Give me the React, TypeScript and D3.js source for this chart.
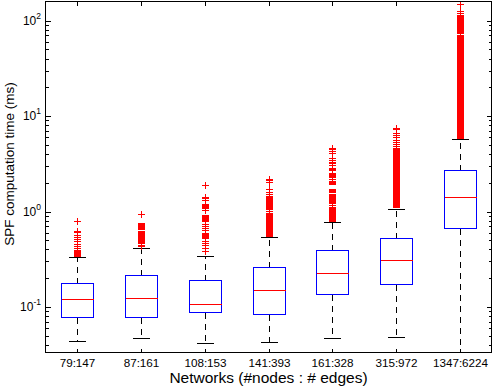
import { scaleBand, scaleLog } from 'd3'

// networks on the x axis
const categories = ['79:147', '87:161', '108:153', '141:393', '161:328', '315:972', '1347:6224']

// box statistics (ms)
const q1 = [0.078, 0.0788, 0.0895, 0.0847, 0.137, 0.1756, 0.671]
const medians = [0.1215, 0.1245, 0.1085, 0.151, 0.227, 0.3105, 1.414]
const q3 = [0.1786, 0.2165, 0.19, 0.2624, 0.395, 0.527, 2.71]
const whiskerLow = [0.0442, 0.0468, 0.0422, 0.0432, 0.0468, 0.0487, 0.025]
const whiskerHigh = [0.334, 0.4146, 0.344, 0.535, 0.786, 1.059, 5.71]

// single outliers that can be told apart
const outliers = [
  [0.794, 0.625, 0.606, 0.571, 0.54, 0.515, 0.486, 0.46, 0.438, 0.415],
  [0.939, 0.45, 0.44, 0.43],
  [1.915, 1.434, 1.38, 1.325, 1.042, 0.738, 0.697, 0.671, 0.644, 0.486, 0.468, 0.441, 0.415, 0.388],
  [2.18, 2.14, 2.02, 1.714, 1.62, 1.53, 1.024, 0.976],
  [4.63, 4.49, 4.34, 4.14, 3.61, 3.47, 3.33, 3.2, 3.08, 2.56, 2.18, 1.175],
  [7.5, 7.35, 6.64, 6.29, 5.99, 5.65, 5.35, 5.1, 4.83],
  [151, 125, 120, 74.2, 71.4],
]

// runs of outliers so close that the markers merge
const denseOutliers = [
  [[0.339, 0.391]],
  [[0.717, 0.756], [0.655, 0.692], [0.54, 0.618], [0.463, 0.522]],
  [[1.085, 1.175], [0.786, 0.913], [0.527, 0.592]],
  [[1.059, 1.434], [0.548, 0.962]],
  [[2.68, 2.84], [2.29, 2.42], [1.9, 2.06], [1.59, 1.71], [1.224, 1.494], [0.786, 1.1]],
  [[1.093, 4.63]],
  [[76.0, 113.6], [5.85, 68.5]],
]

const yExponents = [-1, 0, 1, 2]

const App = () => {
  let width = 493
  let height = 387
  let left = 45.5
  let right = 491.5
  let top = 1.5
  let bottom = 352.5

  let xScale = scaleBand().domain(categories).range([left, right])
  let yScale = scaleLog().domain([0.0333, 159]).range([bottom, top])

  let bw = 32
  let capW = 17
  let plus = 3.5
  let cx = (c: string) => Math.round(xScale(c)! + xScale.bandwidth() / 2) + 0.5
  let yy = (v: number) => Math.round(yScale(v)) + 0.5

  let minorTicks = yScale.ticks().filter(t => {
    let e = Math.log10(t)
    return Math.abs(e - Math.round(e)) > 1e-6
  })

  let font = 'Liberation Sans, Arial, Helvetica, sans-serif'

  return (
    <svg width={width} height={height} shapeRendering='crispEdges' style={{ position: 'absolute', left: 0, top: 0, background: '#fff' }}>
      <defs>
        <clipPath id='plotClip'>
          <rect x={left} y={top} width={right - left} height={bottom - top} />
        </clipPath>
      </defs>

      {/* y ticks, both sides */}
      {yExponents.map(e => (
        <g key={'maj' + e}>
          <line x1={left} x2={left + 5} y1={yy(10 ** e)} y2={yy(10 ** e)} stroke='#000' />
          <line x1={right} x2={right - 5} y1={yy(10 ** e)} y2={yy(10 ** e)} stroke='#000' />
          <text x={41} y={yScale(10 ** e) + 4} textAnchor='end' fontFamily={font} fontSize={12}>
            10<tspan dy={-6} fontSize={8.5}>{e}</tspan>
          </text>
        </g>
      ))}
      {minorTicks.map(t => (
        <g key={'min' + t}>
          <line x1={left} x2={left + 3} y1={yy(t)} y2={yy(t)} stroke='#000' />
          <line x1={right} x2={right - 3} y1={yy(t)} y2={yy(t)} stroke='#000' />
        </g>
      ))}

      {/* x ticks and labels */}
      {categories.map(c => (
        <g key={'xt' + c}>
          <line x1={cx(c)} x2={cx(c)} y1={top} y2={top + 4} stroke='#000' />
          <line x1={cx(c)} x2={cx(c)} y1={bottom} y2={bottom - 4} stroke='#000' />
          <text x={cx(c)} y={367} textAnchor='middle' fontFamily={font} fontSize={11.7}>{c}</text>
        </g>
      ))}

      {/* boxes and whiskers */}
      <g clipPath='url(#plotClip)'>
        {categories.map((c, i) => {
          let x = cx(c)
          return (
            <g key={'box' + c}>
              <line x1={x} x2={x} y1={yy(q3[i])} y2={yy(whiskerHigh[i])} stroke='#000' strokeDasharray='6,5' />
              <line x1={x} x2={x} y1={yy(q1[i])} y2={yy(whiskerLow[i])} stroke='#000' strokeDasharray='6,5' />
              <line x1={x - capW / 2} x2={x + capW / 2} y1={yy(whiskerHigh[i])} y2={yy(whiskerHigh[i])} stroke='#000' />
              <line x1={x - capW / 2} x2={x + capW / 2} y1={yy(whiskerLow[i])} y2={yy(whiskerLow[i])} stroke='#000' />
              <rect x={x - bw / 2} y={yy(q3[i])} width={bw} height={yy(q1[i]) - yy(q3[i])} fill='none' stroke='#0000ff' />
              <line x1={x - bw / 2} x2={x + bw / 2} y1={yy(medians[i])} y2={yy(medians[i])} stroke='#ff0000' />
            </g>
          )
        })}
      </g>

      {/* outliers */}
      {categories.map((c, i) => {
        let x = cx(c)
        return (
          <g key={'out' + c}>
            {denseOutliers[i].map(([lo, hi]) => (
              <rect key={'d' + lo} x={x - plus} y={yScale(hi) - 0.5} width={plus * 2} height={yScale(lo) - yScale(hi) + 1} fill='#ff0000' />
            ))}
            {outliers[i].map(v => (
              <g key={'o' + v} stroke='#ff0000'>
                <line x1={x - plus} x2={x + plus} y1={yy(v)} y2={yy(v)} />
                <line x1={x} x2={x} y1={yy(v) - plus} y2={yy(v) + plus} />
              </g>
            ))}
          </g>
        )
      })}

      {/* axes box */}
      <rect x={left} y={top} width={right - left} height={bottom - top} fill='none' stroke='#000' />

      <text x={268.5} y={383} textAnchor='middle' fontFamily={font} fontSize={15.5}>Networks (#nodes : # edges)</text>
      <text transform='translate(13.5,164) rotate(-90)' textAnchor='middle' fontFamily={font} fontSize={13.5}>SPF computation time (ms)</text>
    </svg>
  )
}

export default App
